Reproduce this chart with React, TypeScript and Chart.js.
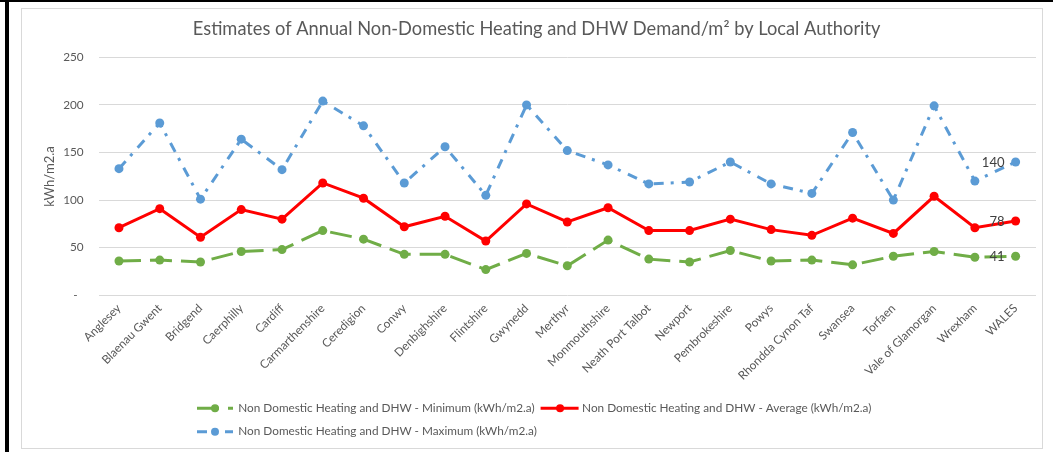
import React, { useEffect, useRef } from 'react';
import { Chart, registerables } from 'chart.js';

Chart.register(...registerables);

const categories = [
  'Anglesey', 'Blaenau Gwent', 'Bridgend', 'Caerphilly', 'Cardiff', 'Carmarthenshire',
  'Ceredigion', 'Conwy', 'Denbighshire', 'Flintshire', 'Gwynedd', 'Merthyr',
  'Monmouthshire', 'Neath Port Talbot', 'Newport', 'Pembrokeshire', 'Powys',
  'Rhondda Cynon Taf', 'Swansea', 'Torfaen', 'Vale of Glamorgan', 'Wrexham', 'WALES',
];
const minimumValues = [36, 37, 35, 46, 48, 68, 59, 43, 43, 27, 44, 31, 58, 38, 35, 47, 36, 37, 32, 41, 46, 40, 41];
const averageValues = [71, 91, 61, 90, 80, 118, 102, 72, 83, 57, 96, 77, 92, 68, 68, 80, 69, 63, 81, 65, 104, 71, 78];
const maximumValues = [133, 181, 101, 164, 132, 204, 178, 118, 156, 105, 200, 152, 137, 117, 119, 140, 117, 107, 171, 100, 199, 120, 140];
const yTickValues = [0, 50, 100, 150, 200, 250];
const seriesNames = [
  'Non Domestic Heating and DHW - Minimum (kWh/m2.a)',
  'Non Domestic Heating and DHW - Average (kWh/m2.a)',
  'Non Domestic Heating and DHW - Maximum (kWh/m2.a)',
];
const seriesColors = ['#70AD47', '#FF0000', '#5B9BD5'];
const seriesDashes: number[][] = [[22, 9], [], [10, 7, 3, 8]];
const chartTitle = 'Estimates of Annual Non-Domestic Heating and DHW Demand/m² by Local Authority';
const yAxisTitle = 'kWh/m2.a';

const FONT = 'Lato, "Open Sans", sans-serif';
const TEXT = '#595959';

function measure(text: string, size: number): number {
  const c = document.createElement('canvas').getContext('2d')!;
  c.font = `${size}px ${FONT}`;
  return c.measureText(text).width;
}

export default function App() {
  const ref = useRef<HTMLCanvasElement>(null);

  useEffect(() => {
    const k = 296.7 / measure(seriesNames[0], 12);
    const titleSize = 18.67 * 687.3 / measure(chartTitle, 18.67);
    const s12 = 12 * k;
    const s13 = 13.33 * k;

    const decor = {
      id: 'decor',
      beforeDraw(chart: any) {
        const ctx = chart.ctx as CanvasRenderingContext2D;
        ctx.save();
        ctx.fillStyle = '#ffffff';
        ctx.fillRect(0, 0, chart.width, chart.height);
        ctx.strokeStyle = '#d9d9d9';
        ctx.lineWidth = 1;
        ctx.strokeRect(21.5, 8.5, 1021, 440);
        ctx.fillStyle = '#000000';
        ctx.fillRect(0, 0, chart.width, 2);
        ctx.fillRect(5, 0, 4, chart.height);
        // title
        ctx.fillStyle = TEXT;
        ctx.font = `${titleSize}px ${FONT}`;
        ctx.textAlign = 'center';
        ctx.textBaseline = 'middle';
        ctx.fillText(chartTitle, 536.6, 29.5);
        // y axis title
        ctx.translate(50, 176.5);
        ctx.rotate(-Math.PI / 2);
        ctx.font = `${s13}px ${FONT}`;
        ctx.fillText(yAxisTitle, 0, 0);
        ctx.restore();
      },
      afterDatasetsDraw(chart: any) {
        const ctx = chart.ctx as CanvasRenderingContext2D;
        ctx.save();
        ctx.font = `${s13}px ${FONT}`;
        ctx.fillStyle = '#404040';
        ctx.textAlign = 'right';
        ctx.textBaseline = 'middle';
        chart.data.datasets.forEach((ds: any, i: number) => {
          const meta = chart.getDatasetMeta(i);
          const last = meta.data.length - 1;
          const pt = meta.data[last];
          ctx.fillText(String(ds.data[last]), pt.x - 11, pt.y + 1);
        });
        ctx.restore();
      },
      afterDraw(chart: any) {
        const ctx = chart.ctx as CanvasRenderingContext2D;
        ctx.save();
        ctx.font = `${s12}px ${FONT}`;
        ctx.textBaseline = 'middle';
        ctx.textAlign = 'left';
        const drawItem = (i: number, x0: number, y: number) => {
          const len = i === 1 ? 38 : 36;
          ctx.strokeStyle = seriesColors[i];
          ctx.lineWidth = 3;
          ctx.setLineDash(seriesDashes[i]);
          ctx.beginPath();
          ctx.moveTo(x0, y);
          ctx.lineTo(x0 + len, y);
          ctx.stroke();
          ctx.setLineDash([]);
          ctx.fillStyle = seriesColors[i];
          ctx.beginPath();
          ctx.arc(x0 + (i === 1 ? 19.5 : 18), y, 4, 0, Math.PI * 2);
          ctx.fill();
          ctx.fillStyle = TEXT;
          const tx = x0 + len + (i === 1 ? 3.5 : 5.3);
          ctx.fillText(seriesNames[i], tx, y);
          return tx + ctx.measureText(seriesNames[i]).width;
        };
        const end0 = drawItem(0, 197, 408.3);
        drawItem(1, end0 + 6, 408.3);
        drawItem(2, 197, 431.7);
        ctx.restore();
      },
    };

    const datasets = [minimumValues, averageValues, maximumValues].map((vals, i) => ({
      label: seriesNames[i],
      data: vals,
      borderColor: seriesColors[i],
      backgroundColor: seriesColors[i],
      pointBackgroundColor: seriesColors[i],
      pointBorderColor: seriesColors[i],
      borderWidth: 3,
      borderDash: seriesDashes[i],
      borderCapStyle: 'butt' as const,
      pointRadius: 4.5,
      pointBorderWidth: 0,
      tension: 0,
      fill: false,
      order: i === 1 ? 0 : i === 0 ? 1 : 2,
    }));

    const chart = new Chart(ref.current!, {
      type: 'line',
      data: { labels: categories, datasets },
      plugins: [decor],
      options: {
        responsive: false,
        animation: false,
        devicePixelRatio: 1,
        layout: { padding: { left: 20, right: 17, top: 57.3, bottom: 0 } },
        plugins: {
          legend: { display: false },
          title: { display: false },
          tooltip: { enabled: false },
        },
        scales: {
          x: {
            type: 'category',
            offset: true,
            grid: { display: false, drawTicks: false },
            border: { display: false },
            ticks: {
              autoSkip: false,
              maxRotation: 45,
              minRotation: 45,
              color: TEXT,
              font: { family: FONT, size: s12 },
              padding: 6,
            },
            afterFit: (s: any) => { s.height = 156.7; },
          },
          y: {
            min: 0,
            max: 250,
            afterBuildTicks: (s: any) => { s.ticks = yTickValues.map((v) => ({ value: v })); },
            ticks: {
              color: TEXT,
              font: { family: FONT, size: s12 },
              padding: 15,
              callback: (v: any) => (Number(v) === 0 ? '-  ' : String(v)),
            },
            grid: { color: '#d9d9d9', lineWidth: 1, drawTicks: false },
            border: { display: false },
            afterFit: (s: any) => { s.width = 78.6; },
          },
        },
      },
    });
    return () => chart.destroy();
  }, []);

  return (
    <div style={{ position: 'absolute', left: 0, top: 0, width: 1053, height: 452 }}>
      <canvas ref={ref} width={1053} height={452} style={{ display: 'block', width: 1053, height: 452 }} />
    </div>
  );
}
